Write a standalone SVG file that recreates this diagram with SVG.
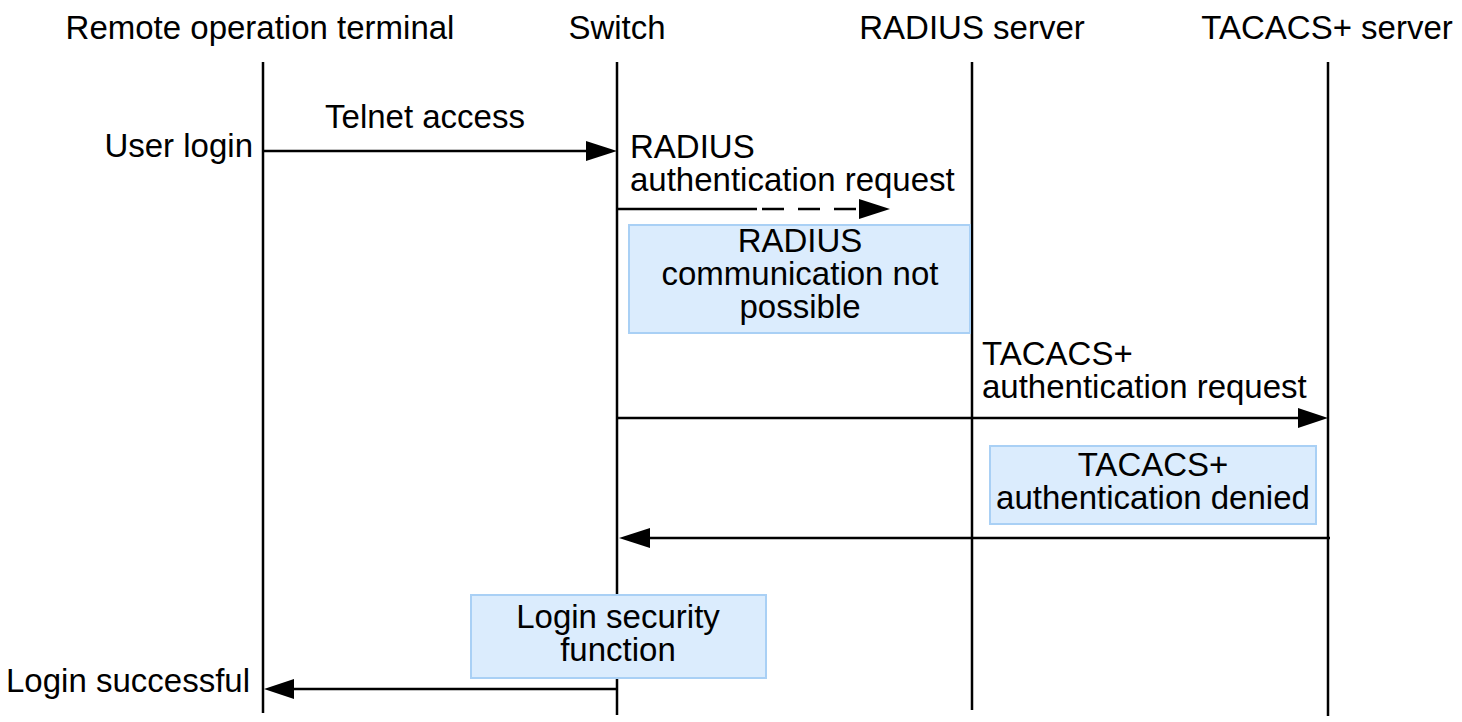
<svg xmlns="http://www.w3.org/2000/svg" width="1462" height="722" viewBox="0 0 1462 722">
<style>
text{font-family:"Liberation Sans",Arial,sans-serif;font-size:33px;fill:#000}
.c{text-anchor:middle}
.r{text-anchor:end}
.life{stroke:#000;stroke-width:2.5;fill:none}
.msg{stroke:#000;stroke-width:2.5;fill:none}
.box{fill:#dbecfd;stroke:#a9d0f5;stroke-width:2}
.ah{fill:#000}
</style>
<rect width="1462" height="722" fill="#fff"/>
<g id="lifelines">
<text class="c" x="260" y="39">Remote operation terminal</text>
<text class="c" x="617" y="39">Switch</text>
<text class="c" x="972" y="39">RADIUS server</text>
<text class="c" x="1327" y="39">TACACS+ server</text>
<line class="life" x1="263" y1="62" x2="263" y2="713"/>
<line class="life" x1="617" y1="62" x2="617" y2="715"/>
<line class="life" x1="972" y1="62" x2="972" y2="710"/>
<line class="life" x1="1328" y1="62" x2="1328" y2="716"/>
</g>
<g id="connectors">
<line class="msg" x1="263" y1="151" x2="588" y2="151"/>
<polygon class="ah" points="586,141 617,151 586,161"/>
<line class="msg" x1="617" y1="209" x2="757" y2="209"/>
<line class="msg" x1="762" y1="209" x2="862" y2="209" stroke-dasharray="22 14"/>
<polygon class="ah" points="859,199 890,209 859,219"/>
<line class="msg" x1="617" y1="418" x2="1300" y2="418"/>
<polygon class="ah" points="1298,408 1328,418 1298,428"/>
<line class="msg" x1="1330" y1="538" x2="648" y2="538"/>
<polygon class="ah" points="650,528 619,538 650,548"/>
<line class="msg" x1="617" y1="689" x2="292" y2="689"/>
<polygon class="ah" points="294,679 264,689 294,699"/>
</g>
<g id="labels">
<text class="c" x="425" y="128">Telnet access</text>
<text class="r" x="253" y="157">User login</text>
<text x="630" y="158">RADIUS</text>
<text x="630" y="191">authentication request</text>
<text x="982" y="365">TACACS+</text>
<text x="982" y="398">authentication request</text>
<text class="r" x="250" y="692">Login successful</text>
</g>
<g id="radius-fail">
<rect class="box" x="629" y="225" width="341" height="108"/>
<text class="c" x="800" y="252">RADIUS</text>
<text class="c" x="800" y="285">communication not</text>
<text class="c" x="800" y="318">possible</text>
</g>
<g id="tacacs-denied">
<rect class="box" x="990" y="446" width="326" height="78"/>
<text class="c" x="1153" y="476">TACACS+</text>
<text class="c" x="1153" y="509">authentication denied</text>
</g>
<g id="login-security">
<rect class="box" x="471" y="595" width="295" height="83"/>
<text class="c" x="618" y="628">Login security</text>
<text class="c" x="618" y="661">function</text>
</g>
</svg>
